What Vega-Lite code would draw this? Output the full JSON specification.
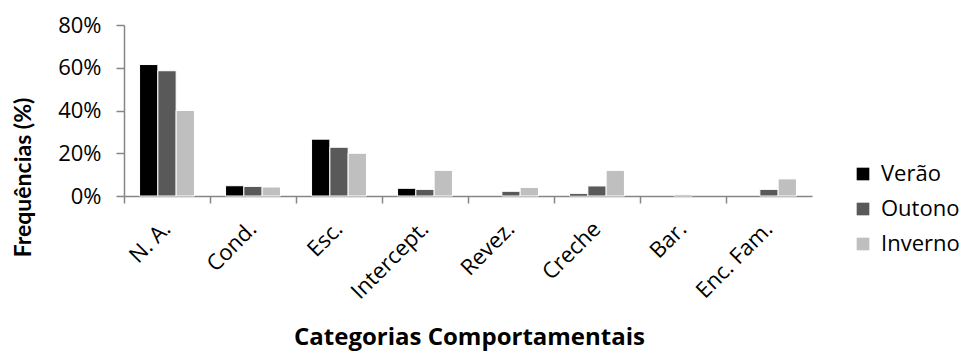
{
  "$schema": "https://vega.github.io/schema/vega-lite/v6.json",
  "autosize": "none",
  "width": 688,
  "height": 171,
  "padding": {"left": 124, "top": 25, "right": 148, "bottom": 156},
  "background": "white",
  "config": {
    "view": {"stroke": null},
    "font": "Open Sans",
    "axis": {"labelFont": "Open Sans", "titleFont": "Open Sans", "labelColor": "#000000", "titleColor": "#000000"}
  },
  "data": {
    "values": [
      {"cat": "N. A.", "season": "Verão", "v": 0.615},
      {"cat": "N. A.", "season": "Outono", "v": 0.586},
      {"cat": "N. A.", "season": "Inverno", "v": 0.400},
      {"cat": "Cond.", "season": "Verão", "v": 0.048},
      {"cat": "Cond.", "season": "Outono", "v": 0.045},
      {"cat": "Cond.", "season": "Inverno", "v": 0.042},
      {"cat": "Esc.", "season": "Verão", "v": 0.266},
      {"cat": "Esc.", "season": "Outono", "v": 0.228},
      {"cat": "Esc.", "season": "Inverno", "v": 0.200},
      {"cat": "Intercept.", "season": "Verão", "v": 0.036},
      {"cat": "Intercept.", "season": "Outono", "v": 0.031},
      {"cat": "Intercept.", "season": "Inverno", "v": 0.120},
      {"cat": "Revez.", "season": "Verão", "v": 0.0},
      {"cat": "Revez.", "season": "Outono", "v": 0.022},
      {"cat": "Revez.", "season": "Inverno", "v": 0.040},
      {"cat": "Creche", "season": "Verão", "v": 0.010},
      {"cat": "Creche", "season": "Outono", "v": 0.047},
      {"cat": "Creche", "season": "Inverno", "v": 0.120},
      {"cat": "Bar.", "season": "Verão", "v": 0.0},
      {"cat": "Bar.", "season": "Outono", "v": 0.005},
      {"cat": "Bar.", "season": "Inverno", "v": 0.0},
      {"cat": "Enc. Fam.", "season": "Verão", "v": 0.0},
      {"cat": "Enc. Fam.", "season": "Outono", "v": 0.031},
      {"cat": "Enc. Fam.", "season": "Inverno", "v": 0.080}
    ]
  },
  "transform": [{"filter": "datum.v > 0"}],
  "mark": {"type": "bar", "stroke": "white", "strokeWidth": 1},
  "encoding": {
    "x": {
      "field": "cat",
      "type": "nominal",
      "sort": ["N. A.", "Cond.", "Esc.", "Intercept.", "Revez.", "Creche", "Bar.", "Enc. Fam."],
      "scale": {"domain": ["N. A.", "Cond.", "Esc.", "Intercept.", "Revez.", "Creche", "Bar.", "Enc. Fam."], "paddingInner": 0, "paddingOuter": 0},
      "axis": {
        "title": "Categorias Comportamentais",
        "titleFontSize": 24,
        "titleFontWeight": "bold",
        "titleX": 345,
        "titleY": 141,
        "titleAlign": "center",
        "titleBaseline": "middle",
        "labelFontSize": 22,
        "labelAngle": -45,
        "labelAlign": "right",
        "labelBaseline": "middle",
        "labelPadding": 22,
        "labelOverlap": false,
        "bandPosition": 0,
        "tickSize": 7,
        "tickColor": "#868686",
        "domainColor": "#868686",
        "tickWidth": 1.5,
        "domainWidth": 1.5,
        "grid": false
      }
    },
    "xOffset": {
      "field": "season",
      "type": "nominal",
      "sort": ["Verão", "Outono", "Inverno"],
      "scale": {"domain": ["Verão", "Outono", "Inverno"], "paddingInner": 0, "paddingOuter": 0.85}
    },
    "y": {
      "field": "v",
      "type": "quantitative",
      "scale": {"domain": [0, 0.8], "nice": false},
      "axis": {
        "title": "Frequências (%)",
        "titleFont": "Lato",
        "titleFontSize": 23,
        "titleFontWeight": "bold",
        "titleX": -101,
        "titleY": 152,
        "titleAlign": "center",
        "titleBaseline": "middle",
        "titleAngle": -90,
        "format": ".0%",
        "values": [0, 0.2, 0.4, 0.6, 0.8],
        "labelFontSize": 22,
        "labelPadding": 15,
        "tickSize": 8,
        "tickColor": "#868686",
        "domainColor": "#868686",
        "tickWidth": 1.5,
        "domainWidth": 1.5,
        "grid": false
      }
    },
    "color": {
      "field": "season",
      "type": "nominal",
      "sort": ["Verão", "Outono", "Inverno"],
      "scale": {"domain": ["Verão", "Outono", "Inverno"], "range": ["#000000", "#595959", "#BFBFBF"]},
      "legend": {
        "title": null,
        "orient": "none",
        "legendX": 728,
        "legendY": 138,
        "symbolType": "square",
        "symbolSize": 160,
        "symbolStrokeWidth": 0,
        "labelFontSize": 22,
        "labelFont": "Open Sans",
        "labelColor": "#000000",
        "rowPadding": 13,
        "labelOffset": 7
      }
    }
  }
}
